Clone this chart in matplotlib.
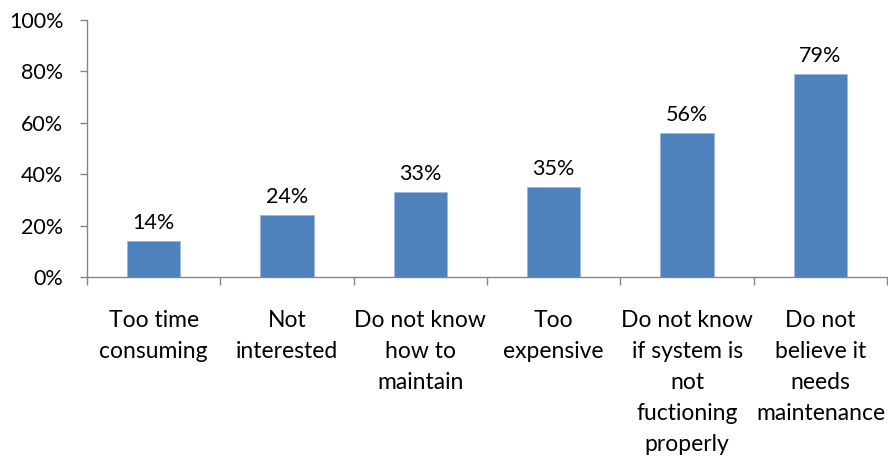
import numpy as np
import matplotlib
matplotlib.use("Agg")
import matplotlib.pyplot as plt
from matplotlib.ticker import FixedLocator

plt.rcParams['font.family'] = ['Lato', 'DejaVu Sans']

reasons = ["Too time\nconsuming", "Not\ninterested", "Do not know\nhow to\nmaintain",
           "Too\nexpensive", "Do not know\nif system is\nnot\nfuctioning\nproperly",
           "Do not\nbelieve it\nneeds\nmaintenance"]
shares = [14, 24, 33, 35, 56, 79]
y_ticks = [0, 20, 40, 60, 80, 100]

fig = plt.figure(figsize=(8.88, 4.57), dpi=100)
ax = fig.add_axes([0.098, 0.394, 0.901, 0.562])

x = np.arange(len(reasons))
bars = ax.bar(x, shares, width=0.4, color="#4F81BD", edgecolor="#9DB9DC", linewidth=0.6)

for xi, v in zip(x, shares):
    ax.annotate("{}%".format(v), (xi, v), xytext=(0, 6), textcoords="offset points",
                ha="center", va="bottom", fontsize=15.5)

ax.set_xlim(-0.5, len(reasons) - 0.5)
ax.set_ylim(0, 100)
ax.set_yticks(y_ticks)
ax.set_yticklabels(["{}%".format(t) for t in y_ticks], fontsize=15.5)

# category labels on major ticks, separator ticks on minor
ax.set_xticks(x)
ax.set_xticklabels(reasons, fontsize=16.5, linespacing=1.58)
ax.xaxis.set_minor_locator(FixedLocator(np.arange(len(reasons) + 1) - 0.5))
ax.tick_params(axis="x", which="major", length=0, pad=24)
ax.tick_params(axis="x", which="minor", length=6, width=1, color="#868686")
ax.tick_params(axis="y", length=5, width=1, color="#868686", pad=12)

for side in ["top", "right"]:
    ax.spines[side].set_visible(False)
for side in ["left", "bottom"]:
    ax.spines[side].set_color("#868686")
    ax.spines[side].set_linewidth(1)

fig.savefig("out.png", dpi=100)
